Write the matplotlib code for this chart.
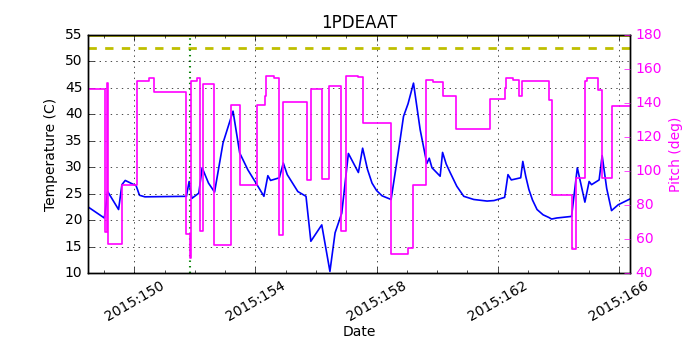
import numpy as np
import matplotlib
matplotlib.use("Agg")
import matplotlib.pyplot as plt
from matplotlib.ticker import FixedLocator, MultipleLocator, FuncFormatter

# ===== DATA (day of year 2015) =====
temp_days = [148.47, 149.01, 149.12, 149.48, 149.59, 149.70, 150.06, 150.17, 150.35,
             151.72, 151.81, 151.90, 152.13, 152.24, 152.45, 152.65, 152.93, 153.26, 153.48,
             153.75, 154.03, 154.28, 154.41, 154.50, 154.79, 154.92, 155.05, 155.40, 155.67,
             155.83, 156.19, 156.46, 156.63, 156.85, 157.07, 157.40, 157.54, 157.70, 157.85,
             158.00, 158.18, 158.48, 158.73, 158.89, 159.04, 159.22, 159.44, 159.66, 159.74,
             159.83, 160.10, 160.18, 160.30, 160.43, 160.65, 160.88, 161.21, 161.65, 161.88,
             162.23, 162.34, 162.45, 162.76, 162.83, 162.93, 163.03, 163.15, 163.30, 163.50,
             163.69, 163.78, 163.95, 164.44, 164.63, 164.88, 165.02, 165.10, 165.35, 165.45,
             165.60, 165.76, 165.98, 166.37]
temp_vals = [22.5, 20.4, 25.4, 22.0, 26.7, 27.5, 26.5, 24.7, 24.4,
             24.5, 27.3, 24.1, 25.1, 29.9, 27.0, 25.3, 34.6, 40.6, 32.7,
             29.5, 26.9, 24.5, 28.4, 27.5, 28.0, 30.8, 28.6, 25.4, 24.5,
             16.0, 19.1, 10.3, 17.6, 21.3, 32.6, 29.0, 33.6, 29.6, 27.0,
             25.6, 24.6, 23.9, 33.3, 39.6, 42.0, 45.9, 37.1, 30.7, 31.7,
             29.9, 28.3, 32.8, 30.6, 29.0, 26.4, 24.5, 23.9, 23.6, 23.7,
             24.3, 28.6, 27.6, 28.0, 31.1, 28.2, 25.8, 23.8, 22.0, 21.0,
             20.5, 20.2, 20.4, 20.7, 29.9, 23.4, 27.3, 26.7, 27.6, 32.2,
             26.0, 21.8, 22.9, 24.0]

pitch_days = [148.47, 149.03, 149.10, 149.13, 149.59, 150.09, 150.48, 150.66, 151.72,
              151.83, 151.88, 152.07, 152.16, 152.27, 152.63, 153.20, 153.48, 154.05,
              154.33, 154.36, 154.61, 154.79, 154.92, 155.69, 155.83, 156.19, 156.44,
              156.82, 156.99, 157.39, 157.54, 158.48, 159.04, 159.19, 159.63, 159.88,
              160.19, 160.64, 161.74, 162.23, 162.27, 162.51, 162.72, 162.79, 163.69,
              163.78, 164.44, 164.58, 164.88, 164.94, 165.32, 165.43, 165.78, 166.37]
pitch_vals = [148.0, 64.0, 152.0, 57.0, 92.0, 153.0, 154.5, 146.3, 63.0,
              49.0, 153.2, 154.7, 64.7, 151.0, 56.7, 139.0, 92.0, 139.0,
              144.0, 155.7, 154.8, 62.5, 140.6, 95.0, 148.2, 95.5, 149.8,
              64.5, 155.7, 155.1, 128.2, 51.2, 54.7, 92.0, 153.7, 152.4,
              144.0, 124.7, 142.5, 148.8, 154.7, 153.7, 144.0, 152.8, 142.0,
              86.0, 54.0, 95.9, 153.1, 154.7, 147.5, 95.9, 138.4, 138.4]

major_days = [150, 154, 158, 162, 166]
planning_limit = 52.5
caution_limit = 55.0
event_day = 151.84

# ===== PLOT =====
plt.style.use('classic')
plt.rcParams['figure.facecolor'] = 'white'
plt.rcParams['savefig.facecolor'] = 'white'

fig = plt.figure(figsize=(7, 3.5), dpi=100)
ax = fig.add_axes([0.1257, 0.22, 0.7743, 0.68])

ax.plot(temp_days, temp_vals, color='b', lw=1.2)
ax.axhline(planning_limit, color='y', lw=2, ls='--')
ax.axhline(caution_limit, color='y', lw=2)
ax.axvline(event_day, color='g', lw=1.5, ls=':')

ax.set_xlim(148.47, 166.37)
ax.set_ylim(10, 55)
ax.xaxis.set_major_locator(FixedLocator(major_days))
ax.xaxis.set_minor_locator(MultipleLocator(1))
ax.xaxis.set_major_formatter(FuncFormatter(lambda v, p: '2015:%03d' % int(round(v))))
ax.yaxis.set_major_locator(MultipleLocator(5))
ax.grid(True, which='major')
for lbl in ax.get_xticklabels():
    lbl.set_rotation(30)
    lbl.set_ha('center')
ax.tick_params(labelsize=10)
ax.set_xlabel('Date', fontsize=10, labelpad=1)
ax.set_ylabel('Temperature (C)', fontsize=10)
ax.set_title('1PDEAAT', fontsize=12)

ax2 = ax.twinx()
ax2.step(pitch_days, pitch_vals, where='post', color='#ff00ff', lw=1.2)
ax2.set_ylim(40, 180)
ax2.set_xlim(148.47, 166.37)
ax2.yaxis.set_major_locator(MultipleLocator(20))
ax2.tick_params(axis='y', labelsize=10, colors='#ff00ff')
ax2.set_ylabel('Pitch (deg)', color='#ff00ff', fontsize=10)

fig.savefig('out.png', dpi=100)
